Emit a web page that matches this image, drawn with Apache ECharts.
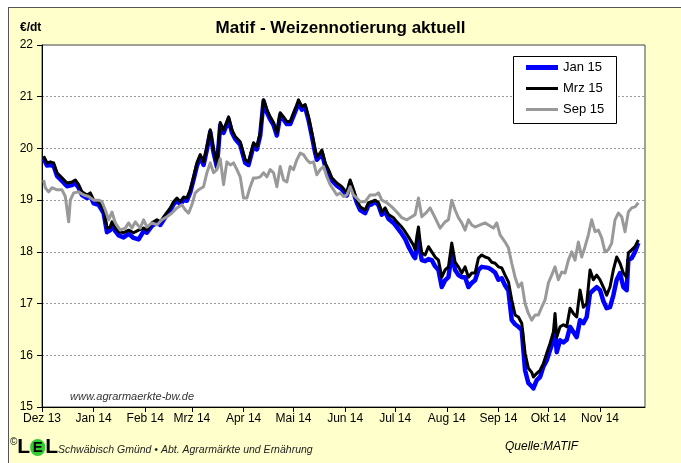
<!DOCTYPE html>
<html>
<head>
<meta charset="utf-8">
<script src="https://cdn.jsdelivr.net/npm/echarts@6/dist/echarts.min.js"></script>
<style>
html,body{margin:0;padding:0;background:#fff;width:681px;height:463px;overflow:hidden;}
#bg{position:absolute;left:8px;top:7px;width:690px;height:470px;background:#FFFFCC;border:1px solid #555;}
#chart{position:absolute;left:0;top:0;width:681px;height:463px;}
</style>
</head>
<body>
<div id="bg"></div>
<div id="chart"></div>
<script>
const monthNames = ['Jan','Feb','Mrz','Apr','Mai','Jun','Jul','Aug','Sep','Okt','Nov','Dez'];
const yTicks = [15, 16, 17, 18, 19, 20, 21, 22];

const mrzDates = ['2013-12-02','2013-12-04','2013-12-06','2013-12-08','2013-12-10','2013-12-13','2013-12-16','2013-12-19','2013-12-21','2013-12-23','2013-12-25','2013-12-28','2013-12-30',
'2014-01-01','2014-01-04','2014-01-07','2014-01-09','2014-01-11','2014-01-12','2014-01-14','2014-01-16','2014-01-19','2014-01-22','2014-01-25','2014-01-28','2014-01-31',
'2014-02-02','2014-02-05','2014-02-08','2014-02-10','2014-02-13','2014-02-16','2014-02-18','2014-02-20','2014-02-22','2014-02-24','2014-02-26','2014-02-28',
'2014-03-02','2014-03-04','2014-03-06','2014-03-08','2014-03-10','2014-03-12','2014-03-14','2014-03-16','2014-03-18','2014-03-20','2014-03-22','2014-03-23','2014-03-25','2014-03-27','2014-03-30',
'2014-04-02','2014-04-04','2014-04-07','2014-04-09','2014-04-11','2014-04-13','2014-04-15','2014-04-17','2014-04-19','2014-04-21','2014-04-23','2014-04-25','2014-04-27','2014-04-29',
'2014-05-01','2014-05-03','2014-05-04','2014-05-06','2014-05-08','2014-05-10','2014-05-12','2014-05-14','2014-05-15','2014-05-17','2014-05-18','2014-05-20','2014-05-22','2014-05-24','2014-05-27','2014-05-30',
'2014-06-02','2014-06-04','2014-06-06','2014-06-08','2014-06-10','2014-06-13','2014-06-15','2014-06-17','2014-06-19','2014-06-21','2014-06-23','2014-06-25','2014-06-27','2014-06-30',
'2014-07-02','2014-07-05','2014-07-07','2014-07-09','2014-07-12','2014-07-13','2014-07-14','2014-07-15','2014-07-16','2014-07-17','2014-07-19','2014-07-21','2014-07-23','2014-07-25','2014-07-27','2014-07-29','2014-07-31',
'2014-08-02','2014-08-04','2014-08-06','2014-08-08','2014-08-10','2014-08-12','2014-08-14','2014-08-16','2014-08-18','2014-08-20','2014-08-22','2014-08-24','2014-08-26','2014-08-28','2014-08-30',
'2014-09-01','2014-09-03','2014-09-05','2014-09-07','2014-09-09','2014-09-11','2014-09-13','2014-09-15','2014-09-17','2014-09-19','2014-09-21','2014-09-22','2014-09-24','2014-09-26','2014-09-28','2014-09-30',
'2014-10-02','2014-10-04','2014-10-05','2014-10-06','2014-10-08','2014-10-10','2014-10-12','2014-10-14','2014-10-16','2014-10-18','2014-10-20','2014-10-22','2014-10-24','2014-10-26','2014-10-28','2014-10-30',
'2014-11-01','2014-11-03','2014-11-05','2014-11-07','2014-11-09','2014-11-11','2014-11-13','2014-11-15','2014-11-17','2014-11-18','2014-11-20','2014-11-22','2014-11-24'];

const mrzValues = [19.85,19.72,19.74,19.72,19.53,19.43,19.33,19.35,19.39,19.30,19.16,19.10,19.14,
19.00,18.97,18.81,18.46,18.48,18.58,18.46,18.39,18.37,18.42,18.37,18.42,18.46,
18.42,18.56,18.62,18.58,18.72,18.85,18.97,19.04,18.97,19.06,19.04,19.20,
19.45,19.72,19.88,19.74,20.03,20.36,19.97,19.70,20.50,20.36,20.52,20.61,20.36,20.23,20.13,
19.78,19.74,20.11,20.03,20.30,20.94,20.75,20.61,20.50,20.30,20.69,20.61,20.52,20.52,
20.69,20.85,20.94,20.81,20.85,20.61,20.30,19.97,19.84,19.91,19.97,19.72,19.59,19.43,19.33,19.26,
19.14,19.39,19.20,19.00,18.87,18.81,18.95,18.97,19.00,18.95,18.77,18.85,18.72,18.66,
18.58,18.48,18.39,18.29,18.13,18.04,18.29,18.48,18.19,17.98,17.94,18.10,18.00,17.90,17.84,17.51,17.65,
17.71,18.17,17.80,17.71,17.59,17.71,17.51,17.59,17.59,17.88,17.94,17.90,17.88,17.80,17.78,
17.71,17.69,17.55,17.42,17.07,16.78,16.74,16.62,16.04,15.75,15.67,15.58,15.65,15.71,15.84,16.04,
16.23,16.45,16.81,16.35,16.55,16.59,16.55,16.91,16.81,16.74,17.26,16.93,17.00,17.65,17.46,17.55,
17.46,17.32,17.16,17.32,17.65,17.90,17.78,17.59,17.51,17.98,18.04,18.10,18.23];

const janDates = mrzDates;
const janValues = [19.80,19.67,19.68,19.66,19.47,19.37,19.27,19.29,19.33,19.24,19.10,19.04,19.08,
18.94,18.91,18.75,18.38,18.42,18.52,18.40,18.32,18.28,18.35,18.27,18.24,18.40,
18.37,18.50,18.57,18.52,18.67,18.80,18.92,18.99,18.92,19.00,18.99,19.15,
19.40,19.66,19.83,19.68,19.98,20.32,19.92,19.64,20.45,20.30,20.47,20.56,20.31,20.18,20.07,
19.72,19.68,20.05,19.98,20.25,20.92,20.70,20.56,20.45,20.25,20.64,20.56,20.47,20.47,
20.63,20.79,20.88,20.75,20.79,20.55,20.24,19.91,19.78,19.85,19.91,19.66,19.53,19.38,19.28,19.21,
19.09,19.33,19.15,18.95,18.81,18.75,18.90,18.92,18.97,18.90,18.72,18.78,18.64,18.56,
18.48,18.35,18.25,18.10,17.92,17.88,18.10,18.29,18.02,17.84,17.82,17.86,17.84,17.72,17.65,17.32,17.45,
17.51,17.98,17.65,17.55,17.51,17.51,17.32,17.40,17.45,17.65,17.71,17.70,17.69,17.65,17.60,
17.46,17.49,17.35,17.25,16.68,16.60,16.55,16.49,15.71,15.46,15.40,15.36,15.52,15.58,15.78,15.90,
16.10,16.29,16.49,16.06,16.29,16.25,16.30,16.55,16.45,16.35,16.68,16.62,16.74,17.20,17.26,17.32,
17.26,17.05,16.91,16.93,17.16,17.46,17.59,17.32,17.26,17.84,17.88,18.00,18.17];

const sepDates = ['2013-12-02','2013-12-03','2013-12-05','2013-12-07','2013-12-10','2013-12-13','2013-12-15','2013-12-17','2013-12-18','2013-12-20','2013-12-23','2013-12-26','2013-12-29',
'2014-01-01','2014-01-04','2014-01-06','2014-01-08','2014-01-10','2014-01-12','2014-01-14','2014-01-17','2014-01-20','2014-01-22','2014-01-24','2014-01-26','2014-01-29','2014-01-31',
'2014-02-02','2014-02-05','2014-02-08','2014-02-11','2014-02-14','2014-02-17','2014-02-20','2014-02-23','2014-02-25','2014-02-27',
'2014-03-01','2014-03-03','2014-03-05','2014-03-08','2014-03-10','2014-03-12','2014-03-14','2014-03-16','2014-03-18','2014-03-20','2014-03-22','2014-03-24','2014-03-26','2014-03-28','2014-03-30',
'2014-04-01','2014-04-03','2014-04-05','2014-04-07','2014-04-09','2014-04-11','2014-04-13','2014-04-15','2014-04-17','2014-04-19','2014-04-21','2014-04-23','2014-04-25','2014-04-27','2014-04-29',
'2014-05-01','2014-05-03','2014-05-05','2014-05-07','2014-05-09','2014-05-11','2014-05-13','2014-05-15','2014-05-17','2014-05-19','2014-05-21','2014-05-23','2014-05-25','2014-05-27','2014-05-29','2014-05-31',
'2014-06-02','2014-06-04','2014-06-06','2014-06-08','2014-06-10','2014-06-13','2014-06-16','2014-06-19','2014-06-21','2014-06-23','2014-06-26','2014-06-29',
'2014-07-02','2014-07-05','2014-07-08','2014-07-11','2014-07-13','2014-07-15','2014-07-17','2014-07-20','2014-07-22','2014-07-25','2014-07-28','2014-07-31',
'2014-08-02','2014-08-04','2014-08-06','2014-08-08','2014-08-10','2014-08-12','2014-08-14','2014-08-16','2014-08-18','2014-08-21','2014-08-24','2014-08-26','2014-08-29','2014-08-31',
'2014-09-02','2014-09-05','2014-09-07','2014-09-09','2014-09-11','2014-09-13','2014-09-15','2014-09-17','2014-09-19','2014-09-21','2014-09-23','2014-09-25','2014-09-27','2014-09-29',
'2014-10-01','2014-10-03','2014-10-05','2014-10-07','2014-10-09','2014-10-11','2014-10-13','2014-10-15','2014-10-17','2014-10-19','2014-10-21','2014-10-23','2014-10-25','2014-10-27','2014-10-29','2014-10-31',
'2014-11-02','2014-11-04','2014-11-06','2014-11-08','2014-11-10','2014-11-12','2014-11-14','2014-11-16','2014-11-18','2014-11-20','2014-11-22','2014-11-24'];

const sepValues = [19.39,19.24,19.16,19.24,19.20,19.20,19.07,18.58,19.00,19.14,19.16,19.10,19.07,
19.00,19.00,18.97,18.81,18.62,18.77,18.56,18.42,18.46,18.56,18.46,18.58,18.46,18.62,
18.48,18.56,18.52,18.62,18.68,18.75,18.85,18.91,18.81,18.75,
18.91,19.14,19.20,19.26,19.53,19.72,19.53,19.59,19.80,19.30,19.74,19.68,19.72,19.59,19.45,
19.04,19.04,19.26,19.43,19.43,19.45,19.53,19.45,19.59,19.53,19.26,19.65,19.39,19.35,19.65,
19.59,19.78,19.91,19.88,19.78,19.72,19.74,19.49,19.59,19.65,19.45,19.30,19.20,19.10,19.14,19.07,
19.10,19.26,19.10,19.04,18.97,18.97,19.10,19.10,19.14,19.00,18.95,18.87,
18.77,18.66,18.62,18.68,18.72,19.04,18.68,18.77,18.85,18.66,18.46,18.58,
18.62,19.00,18.81,18.66,18.56,18.42,18.62,18.52,18.48,18.52,18.56,18.52,18.46,18.56,
18.33,18.19,18.08,17.78,17.51,17.32,17.40,17.00,16.81,16.68,16.78,16.78,16.93,17.07,
17.40,17.55,17.71,17.46,17.61,17.59,17.84,18.00,17.84,18.19,17.90,18.10,18.33,18.62,18.39,18.42,
18.27,18.00,18.04,18.17,18.62,18.75,18.68,18.39,18.77,18.85,18.87,18.95];

const seriesNames = ['Jan 15', 'Mrz 15', 'Sep 15'];
const seriesColors = ['#0000FF', '#000000', '#999999'];

function zip(d, v) { return d.map((x, i) => [x, v[i]]); }

const FONT = '"Liberation Sans", Arial, sans-serif';
const chart = echarts.init(document.getElementById('chart'), null, {renderer: 'canvas'});

chart.setOption({
  backgroundColor: 'transparent',
  animation: false,
  textStyle: {fontFamily: FONT},
  title: {
    text: 'Matif - Weizennotierung aktuell',
    left: 'center',
    top: 20,
    padding: 0,
    textStyle: {fontFamily: FONT, fontSize: 17, fontWeight: 'bold', color: '#000'}
  },
  grid: {
    left: 42, right: 36, top: 45, bottom: 56,
    show: true, backgroundColor: '#FFFFFF', borderColor: '#444', borderWidth: 1
  },
  legend: {
    orient: 'vertical',
    left: 526, top: 61,
    padding: 0,
    itemWidth: 32, itemHeight: 14, itemGap: 8,
    symbolKeepAspect: true,
    z: 10,
    data: [
      {name: seriesNames[0], icon: 'path://M0,0L32,0L32,5L0,5Z'},
      {name: seriesNames[1], icon: 'path://M0,0L32,0L32,3L0,3Z'},
      {name: seriesNames[2], icon: 'path://M0,0L32,0L32,3L0,3Z'}
    ],
    textStyle: {fontFamily: FONT, fontSize: 13, color: '#000'}
  },
  xAxis: {
    type: 'time',
    min: '2013-12-01',
    max: '2014-11-28',
    splitNumber: 12,
    minInterval: 28 * 24 * 3600 * 1000,
    maxInterval: 31 * 24 * 3600 * 1000,
    axisLine: {show: true, lineStyle: {color: '#000', width: 1}},
    axisTick: {show: true, length: 5, lineStyle: {color: '#000'}},
    splitLine: {show: false},
    axisLabel: {
      margin: 6,
      fontFamily: FONT, fontSize: 12, color: '#000',
      hideOverlap: false,
      formatter: function (val) {
        const d = new Date(val);
        return monthNames[d.getMonth()] + ' ' + String(d.getFullYear()).slice(2);
      }
    }
  },
  yAxis: {
    type: 'value',
    min: yTicks[0], max: yTicks[yTicks.length - 1], interval: 1,
    axisLine: {show: true, lineStyle: {color: '#000', width: 1}},
    axisTick: {show: true, length: 5, lineStyle: {color: '#000'}},
    splitLine: {show: true, lineStyle: {color: '#999', type: [2, 2], width: 1}},
    axisLabel: {margin: 9, fontFamily: FONT, fontSize: 12, color: '#000'}
  },
  graphic: [
    {type: 'rect', z: 1, silent: true,
     shape: {x: 513.5, y: 56.5, width: 103, height: 67},
     style: {fill: '#FFFFFF', stroke: '#000', lineWidth: 1}},
    {type: 'text', left: 20, top: 22, silent: true,
     style: {text: '€/dt', font: 'bold 12px ' + FONT, fill: '#000'}},
    {type: 'text', left: 70, top: 391, silent: true, z: 5,
     style: {text: 'www.agrarmaerkte-bw.de', font: 'italic 11px ' + FONT, fill: '#333'}},
    {type: 'text', left: 10, top: 437, silent: true,
     style: {
       text: '{c|©}{l|L}{e|E}{l|L}{s|Schwäbisch Gmünd • Abt. Agrarmärkte und Ernährung}',
       rich: {
         c: {fontSize: 10, fontFamily: FONT, fill: '#000', verticalAlign: 'top', padding: [0, 0, 9, 0]},
         l: {fontSize: 21, fontWeight: 'bold', fontFamily: FONT, fill: '#000'},
         e: {fontSize: 15, fontWeight: 'bold', fontFamily: FONT, fill: '#000', backgroundColor: '#33CC33', borderRadius: 8, width: 15, height: 17, align: 'center'},
         s: {fontSize: 10.5, fontStyle: 'italic', fontFamily: FONT, fill: '#222', padding: [6, 0, 0, 0]}
       }
     }},
    {type: 'text', left: 505, top: 441, silent: true,
     style: {text: 'Quelle:MATIF', font: 'italic 12px ' + FONT, fill: '#000'}}
  ],
  series: [
    {name: seriesNames[0], type: 'line', data: zip(janDates, janValues), showSymbol: false, symbol: 'none',
     color: seriesColors[0], lineStyle: {color: seriesColors[0], width: 4.5, join: 'round'}, z: 2},
    {name: seriesNames[1], type: 'line', data: zip(mrzDates, mrzValues), showSymbol: false, symbol: 'none',
     color: seriesColors[1], lineStyle: {color: seriesColors[1], width: 3, join: 'round'}, z: 3},
    {name: seriesNames[2], type: 'line', data: zip(sepDates, sepValues), showSymbol: false, symbol: 'none',
     color: seriesColors[2], lineStyle: {color: seriesColors[2], width: 3, join: 'round'}, z: 4}
  ]
});
</script>
</body>
</html>
